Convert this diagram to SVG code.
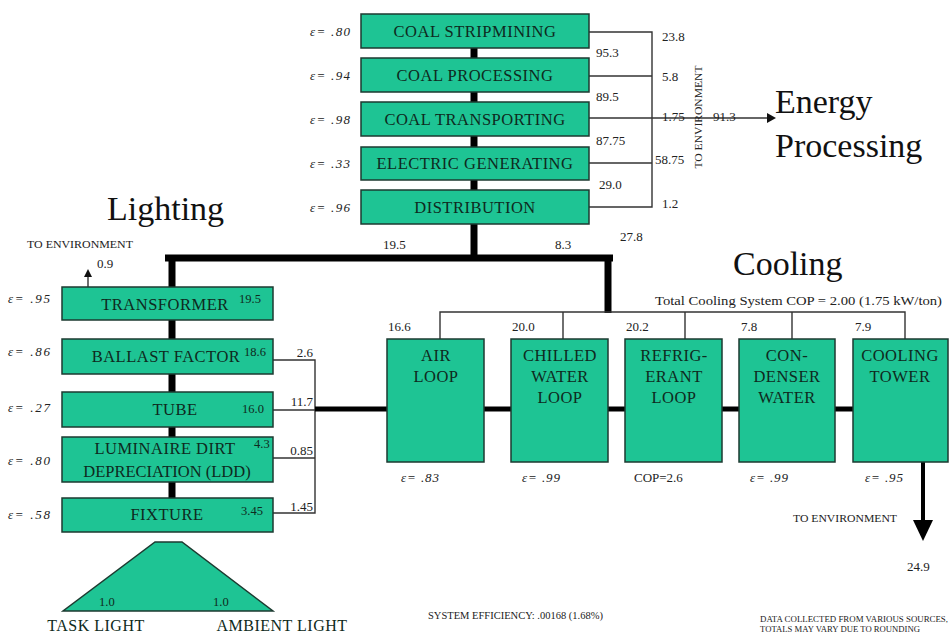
<svg xmlns="http://www.w3.org/2000/svg" width="950" height="637" viewBox="0 0 950 637">
<style>
.box{fill:#1ec494;stroke:#1d3a30;stroke-width:1.5}
.bt{font-family:"Liberation Serif",serif;font-size:16.5px;letter-spacing:0.5px;fill:#0e2a20;text-anchor:middle}
.n{font-family:"Liberation Serif",serif;font-size:13px;fill:#222}
.nb{font-family:"Liberation Serif",serif;font-size:12.5px;fill:#0e2a20}
.e{font-family:"Liberation Serif",serif;font-size:13px;font-style:italic;fill:#222}
.big{font-family:"Liberation Serif",serif;font-size:34px;fill:#111}
.sm{font-family:"Liberation Serif",serif;font-size:10px;fill:#222}
.thick{stroke:#000;stroke-width:7;fill:none}
.mid{stroke:#000;stroke-width:5;fill:none}
.thin{stroke:#333;stroke-width:1.4;fill:none}
</style>
<rect width="950" height="637" fill="#fff"/>

<g id="connectors">
<line class="thick" x1="474" y1="48" x2="474" y2="58"/>
<line class="thick" x1="474" y1="92" x2="474" y2="102"/>
<line class="thick" x1="474" y1="136" x2="474" y2="147"/>
<line class="thick" x1="474" y1="180" x2="474" y2="190"/>
<line class="thick" x1="474" y1="224" x2="474" y2="258"/>
<line class="thick" x1="165" y1="258" x2="613" y2="258"/>
<line class="thick" x1="172" y1="258" x2="172" y2="287"/>
<line class="thick" x1="608" y1="258" x2="608" y2="313"/>
<polyline class="thin" points="589,32 652,32 652,207 589,207"/>
<line class="thin" x1="589" y1="76" x2="652" y2="76"/>
<line class="thin" x1="589" y1="163" x2="652" y2="163"/>
<line class="thin" x1="589" y1="118" x2="767" y2="118"/>
<polygon points="767,113 776,118 767,123" fill="#111"/>
<line class="thick" x1="172" y1="320" x2="172" y2="339"/>
<line class="thick" x1="172" y1="374" x2="172" y2="392"/>
<line class="thick" x1="172" y1="427" x2="172" y2="437"/>
<line class="thick" x1="172" y1="482" x2="172" y2="498"/>
<line class="thin" x1="88" y1="287" x2="88" y2="276"/>
<polygon points="84,277 88,269 92,277" fill="#111"/>
<polyline class="thin" points="273,360 315,360 315,513 273,513"/>
<line class="thin" x1="273" y1="410" x2="315" y2="410"/>
<line class="thin" x1="273" y1="458" x2="315" y2="458"/>
<line class="mid" x1="315" y1="409" x2="387" y2="409"/>
<line class="mid" x1="484" y1="409" x2="511" y2="409"/>
<line class="mid" x1="608" y1="409" x2="625" y2="409"/>
<line class="mid" x1="722" y1="409" x2="739" y2="409"/>
<line class="mid" x1="835" y1="409" x2="853" y2="409"/>
<polyline class="thin" points="440,339 440,312 905,312 905,339"/>
<line class="thin" x1="563" y1="312" x2="563" y2="339"/>
<line class="thin" x1="685" y1="312" x2="685" y2="339"/>
<line class="thin" x1="792" y1="312" x2="792" y2="339"/>
<line stroke="#000" stroke-width="4" x1="923" y1="462" x2="923" y2="522"/>
<polygon points="913,520 933,520 923,541" fill="#000"/>
</g>

<g id="coal-stripmining"><rect class="box" x="361" y="14" width="228" height="34"/><text class="bt" x="475" y="37">COAL STRIPMINING</text><text class="e" x="310" y="36" textLength="40">ε= .80</text></g>
<g id="coal-processing"><rect class="box" x="361" y="58" width="228" height="34"/><text class="bt" x="475" y="81">COAL PROCESSING</text><text class="e" x="310" y="80" textLength="40">ε= .94</text></g>
<g id="coal-transporting"><rect class="box" x="361" y="102" width="228" height="34"/><text class="bt" x="475" y="125">COAL TRANSPORTING</text><text class="e" x="310" y="124" textLength="40">ε= .98</text></g>
<g id="electric-generating"><rect class="box" x="361" y="147" width="228" height="33"/><text class="bt" x="475" y="169">ELECTRIC GENERATING</text><text class="e" x="310" y="168" textLength="40">ε= .33</text></g>
<g id="distribution"><rect class="box" x="361" y="190" width="228" height="34"/><text class="bt" x="475" y="213">DISTRIBUTION</text><text class="e" x="310" y="212" textLength="40">ε= .96</text></g>

<g id="top-labels">
<text class="n" x="596" y="57">95.3</text>
<text class="n" x="596" y="101">89.5</text>
<text class="n" x="596" y="145">87.75</text>
<text class="n" x="599" y="189">29.0</text>
<text class="n" x="662" y="41">23.8</text>
<text class="n" x="662" y="81">5.8</text>
<text class="n" x="662" y="121">1.75</text>
<text class="n" x="713" y="121">91.3</text>
<text class="n" x="655" y="164">58.75</text>
<text class="n" x="662" y="208">1.2</text>
<text class="sm" x="698" y="117" text-anchor="middle" dominant-baseline="central" transform="rotate(-90 698 117)" textLength="103" lengthAdjust="spacingAndGlyphs">TO ENVIRONMENT</text>
<text class="big" x="775" y="113">Energy</text>
<text class="big" x="775" y="157">Processing</text>
<text class="big" x="107" y="220">Lighting</text>
<text class="big" x="733" y="275">Cooling</text>
<text class="n" x="383" y="249">19.5</text>
<text class="n" x="555" y="249">8.3</text>
<text class="n" x="620" y="241">27.8</text>
</g>

<g id="transformer"><rect class="box" x="62" y="287" width="211" height="33"/><text class="bt" x="165" y="310">TRANSFORMER</text><text class="nb" x="239" y="303">19.5</text><text class="e" x="8" y="303" textLength="42">ε= .95</text></g>
<g id="ballast-factor"><rect class="box" x="62" y="339" width="211" height="35"/><text class="bt" x="166" y="362">BALLAST FACTOR</text><text class="nb" x="244" y="356">18.6</text><text class="e" x="8" y="356" textLength="42">ε= .86</text></g>
<g id="tube"><rect class="box" x="62" y="392" width="211" height="35"/><text class="bt" x="175" y="415">TUBE</text><text class="nb" x="242" y="413">16.0</text><text class="e" x="8" y="412" textLength="42">ε= .27</text></g>
<g id="ldd"><rect class="box" x="62" y="437" width="211" height="45"/><text class="bt" x="165" y="454">LUMINAIRE DIRT</text><text class="bt" x="167" y="477" style="letter-spacing:0">DEPRECIATION (LDD)</text><text class="nb" x="254" y="448">4.3</text><text class="e" x="8" y="465" textLength="42">ε= .80</text></g>
<g id="fixture"><rect class="box" x="62" y="498" width="211" height="34"/><text class="bt" x="167" y="520">FIXTURE</text><text class="nb" x="241" y="515">3.45</text><text class="e" x="8" y="519" textLength="42">ε= .58</text></g>

<g id="lighting-labels">
<text class="sm" x="27" y="248" textLength="106" lengthAdjust="spacingAndGlyphs">TO ENVIRONMENT</text>
<text class="n" x="97" y="268">0.9</text>
<text class="n" x="313" y="357" text-anchor="end">2.6</text>
<text class="n" x="313" y="406" text-anchor="end">11.7</text>
<text class="n" x="313" y="455" text-anchor="end">0.85</text>
<text class="n" x="313" y="511" text-anchor="end">1.45</text>
</g>

<g id="task-ambient">
<polygon class="box" points="155,542 182,542 273,611 63,611"/>
<text class="nb" x="99" y="606">1.0</text>
<text class="nb" x="213" y="606">1.0</text>
<text class="bt" x="96" y="631" style="font-size:16px">TASK LIGHT</text>
<text class="bt" x="282" y="631" style="font-size:16px">AMBIENT LIGHT</text>
</g>

<g id="air-loop"><rect class="box" x="387" y="339" width="97" height="123"/><text class="bt" x="436" y="361">AIR</text><text class="bt" x="436" y="382">LOOP</text><text class="n" x="388" y="331">16.6</text><text class="e" x="401" y="482" textLength="38">ε= .83</text></g>
<g id="chilled-water-loop"><rect class="box" x="511" y="339" width="97" height="123"/><text class="bt" x="560" y="361">CHILLED</text><text class="bt" x="560" y="382">WATER</text><text class="bt" x="560" y="403">LOOP</text><text class="n" x="512" y="331">20.0</text><text class="e" x="522" y="482" textLength="38">ε= .99</text></g>
<g id="refrigerant-loop"><rect class="box" x="625" y="339" width="97" height="123"/><text class="bt" x="674" y="361">REFRIG-</text><text class="bt" x="674" y="382">ERANT</text><text class="bt" x="674" y="403">LOOP</text><text class="n" x="626" y="331">20.2</text><text class="n" x="634" y="482">COP=2.6</text></g>
<g id="condenser-water"><rect class="box" x="739" y="339" width="96" height="123"/><text class="bt" x="787" y="361">CON-</text><text class="bt" x="787" y="382">DENSER</text><text class="bt" x="787" y="403">WATER</text><text class="n" x="741" y="331">7.8</text><text class="e" x="750" y="482" textLength="38">ε= .99</text></g>
<g id="cooling-tower"><rect class="box" x="853" y="339" width="95" height="123"/><text class="bt" x="900" y="361">COOLING</text><text class="bt" x="900" y="382">TOWER</text><text class="n" x="855" y="331">7.9</text><text class="e" x="865" y="482" textLength="38">ε= .95</text></g>

<g id="cooling-labels">
<text class="n" x="655" y="305" textLength="287" lengthAdjust="spacingAndGlyphs">Total Cooling System COP = 2.00 (1.75 kW/ton)</text>
<text class="sm" x="793" y="522" textLength="104" lengthAdjust="spacingAndGlyphs">TO ENVIRONMENT</text>
<text class="n" x="907" y="571">24.9</text>
</g>

<g id="footer">
<text class="sm" x="428" y="619" textLength="175" lengthAdjust="spacingAndGlyphs">SYSTEM EFFICIENCY: .00168 (1.68%)</text>
<text class="sm" x="760" y="622" style="font-size:8px" textLength="188" lengthAdjust="spacingAndGlyphs">DATA COLLECTED FROM VARIOUS SOURCES,</text>
<text class="sm" x="760" y="632" style="font-size:8px" textLength="160" lengthAdjust="spacingAndGlyphs">TOTALS MAY VARY DUE TO ROUNDING</text>
</g>
</svg>
